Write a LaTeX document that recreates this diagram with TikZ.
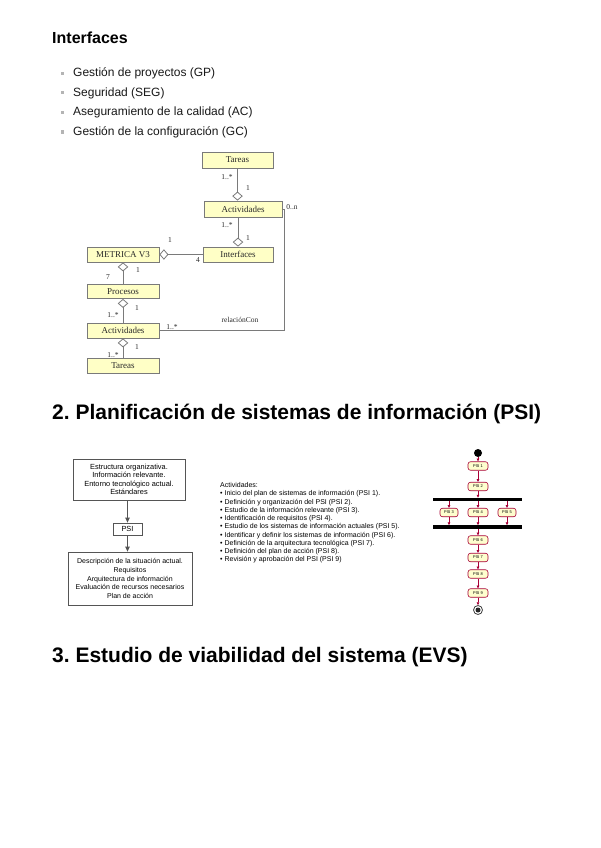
\documentclass[tikz,border=0pt]{standalone}
\usepackage{fontspec}
\setmainfont{Liberation Sans}
\newfontfamily\umlserif{Liberation Serif}
\usetikzlibrary{arrows.meta}
\frenchspacing
\definecolor{umlfill}{HTML}{FFFFC6}
\definecolor{umlline}{HTML}{7A7A7A}
\definecolor{umltext}{HTML}{2A2A2A}
\definecolor{pumlred}{HTML}{A80036}
\definecolor{pumlfill}{HTML}{FEFECE}
\definecolor{bulletgrey}{HTML}{B4B4B4}
\definecolor{boxline}{HTML}{555555}
\tikzset{
  heading/.style={anchor=base west, inner sep=0, font=\bfseries\fontsize{21}{24}\selectfont},
  subheading/.style={anchor=base west, inner sep=0, font=\bfseries\fontsize{16}{18}\selectfont},
  bulletmark/.style={fill=bulletgrey, minimum size=3, inner sep=0},
  bullettext/.style={anchor=base west, inner sep=0, font=\fontsize{12}{14}\selectfont, text=black!90},
  umlbox/.style={draw=umlline, fill=umlfill, line width=0.8, inner sep=0, text=umltext,
    font=\umlserif\fontsize{9}{10}\selectfont},
  umllabel/.style={inner sep=0, text=umltext, font=\umlserif\fontsize{7.5}{8}\selectfont},
  umlline/.style={draw=umlline, line width=0.8},
  agg/.style={umlline, {Diamond[open, length=9, width=10.5, fill=white]}-},
  plainbox/.style={draw=boxline, fill=white, line width=0.8, inner sep=0, align=center,
    font=\fontsize{7.4}{8.4}\selectfont},
  flowarrow/.style={draw=boxline, line width=0.8, -{Triangle[length=5, width=4.5]}},
  pbox/.style={draw=pumlred, fill=pumlfill, rounded corners=2.5, line width=0.6, inner sep=0,
    minimum width=20, minimum height=8.5, font=\fontsize{4}{4}\selectfont},
  parrow/.style={draw=pumlred, line width=0.6, -{Triangle[length=2.8, width=2.6]}},
  pbar/.style={fill=black, inner sep=0, minimum height=3.2, minimum width=89},
}
\begin{document}
\begin{tikzpicture}[x=1pt, y=-1pt]
\useasboundingbox (0,0) rectangle (600,848);
\fill[white] (0,0) rectangle (600,848);

% ---------- Interfaces heading and bullets ----------
\node[subheading] (hInt) at (52,44) {Interfaces};
\node[bulletmark] (m1) at (62,73.5) {};
\node[bullettext] (l1) at (73,77) {Gestión de proyectos (GP)};
\node[bulletmark] (m2) at (62,93) {};
\node[bullettext] (l2) at (73,96.5) {Seguridad (SEG)};
\node[bulletmark] (m3) at (62,112.5) {};
\node[bullettext] (l3) at (73,116) {Aseguramiento de la calidad (AC)};
\node[bulletmark] (m4) at (62,132) {};
\node[bullettext] (l4) at (73,135.5) {Gestión de la configuración (GC)};

% ---------- UML diagram ----------
\node[umlbox, minimum width=71, minimum height=16] (tar1) at (237.5,160) {Tareas};
\node[umlbox, minimum width=78, minimum height=16] (act1) at (243,209) {Actividades};
\node[umlbox, minimum width=70, minimum height=15] (int)  at (238,254.5) {Interfaces};
\node[umlbox, minimum width=72, minimum height=15] (met)  at (123,254.5) {METRICA V3};
\node[umlbox, minimum width=72, minimum height=14] (pro)  at (123,291.5) {Procesos};
\node[umlbox, minimum width=72, minimum height=15] (act2) at (123,330.5) {Actividades};
\node[umlbox, minimum width=72, minimum height=15] (tar2) at (123,365.5) {Tareas};

\draw[agg] (act1.north -| tar1.south) -- (tar1.south);
\draw[agg] (int.north) -- (int.north |- act1.south);
\draw[agg] (met.east) -- (int.west);
\draw[agg] (met.south) -- (pro.north);
\draw[agg] (pro.south) -- (act2.north);
\draw[agg] (act2.south) -- (tar2.north);
\coordinate (rc) at (284.5,0);
\draw[umlline] (act1.east) -- (act1.east -| rc) -- (act2.east -| rc) -- (act2.east);

\node[umllabel] (q1) at (227,177) {1..*};
\node[umllabel] (q2) at (248,188) {1};
\node[umllabel] (q3) at (292,207) {0..n};
\node[umllabel] (q4) at (227,225.5) {1..*};
\node[umllabel] (q5) at (248,238) {1};
\node[umllabel] (q6) at (170,240.5) {1};
\node[umllabel] (q7) at (198,260) {4};
\node[umllabel] (q8) at (138,270.5) {1};
\node[umllabel] (q9) at (108,277) {7};
\node[umllabel] (q10) at (137,308) {1};
\node[umllabel] (q11) at (113,315) {1..*};
\node[umllabel] (q12) at (240,319.5) {relaciónCon};
\node[umllabel] (q13) at (172,327) {1..*};
\node[umllabel] (q14) at (137,347) {1};
\node[umllabel] (q15) at (113,355) {1..*};

% ---------- Heading 2 ----------
\node[heading] (h2) at (52,419) {2. Planificación de sistemas de información (PSI)};

% ---------- PSI flow (left) ----------
\node[plainbox, minimum width=112, minimum height=41] (ptop) at (129,479.5)
  {Estructura organizativa.\\Información relevante.\\Entorno tecnológico actual.\\Estándares};
\node[plainbox, minimum width=29, minimum height=12] (psi) at (127.5,529) {PSI};
\node[plainbox, minimum width=124, minimum height=53, font=\fontsize{7}{8.9}\selectfont] (pbot) at (130,578.5)
  {Descripción de la situación actual.\\Requisitos\\Arquitectura de información\\Evaluación de recursos necesarios\\Plan de acción};
\draw[flowarrow] (ptop.south -| psi.north) -- (psi.north);
\draw[flowarrow] (psi.south) -- (pbot.north -| psi.south);

% ---------- Activities list ----------
\node[anchor=north west, inner sep=0, align=left, font=\fontsize{7}{8.25}\selectfont] (acts) at (220,482.3)
  {Actividades:\\
   • Inicio del plan de sistemas de información (PSI 1).\\
   • Definición y organización del PSI (PSI 2).\\
   • Estudio de la información relevante (PSI 3).\\
   • Identificación de requisitos (PSI 4).\\
   • Estudio de los sistemas de información actuales (PSI 5).\\
   • Identificar y definir los sistemas de información (PSI 6).\\
   • Definición de la arquitectura tecnológica (PSI 7).\\
   • Definición del plan de acción (PSI 8).\\
   • Revisión y aprobación del PSI (PSI 9)};

% ---------- Activity diagram (right) ----------
\node[circle, fill=black, minimum size=8, inner sep=0] (start) at (478,453) {};
\node[pbox] (p1) at (478,466) {PSI 1};
\node[pbox] (p2) at (478,486.5) {PSI 2};
\node[pbar] (bar1) at (477.5,499.5) {};
\node[pbox, minimum width=18] (p3) at (449,512.5) {PSI 3};
\node[pbox] (p4) at (478,512.5) {PSI 4};
\node[pbox, minimum width=18] (p5) at (507,512.5) {PSI 5};
\node[pbar] (bar2) at (477.5,527) {};
\node[pbox] (p6) at (478,540) {PSI 6};
\node[pbox] (p7) at (478,557.5) {PSI 7};
\node[pbox] (p8) at (478,574) {PSI 8};
\node[pbox] (p9) at (478,593) {PSI 9};
\node[circle, draw=black!75, line width=0.8, fill=white, minimum size=9, inner sep=0] (stop) at (478,610) {};
\node[circle, fill=black!85, minimum size=5, inner sep=0] (stopin) at (stop) {};

\draw[parrow] (start) -- (p1);
\draw[parrow] (p1) -- (p2);
\draw[parrow] (p2.south) -- (bar1.north -| p2.south);
\draw[parrow] (bar1.south -| p3.north) -- (p3.north);
\draw[parrow] (bar1.south -| p4.north) -- (p4.north);
\draw[parrow] (bar1.south -| p5.north) -- (p5.north);
\draw[parrow] (p3.south) -- (bar2.north -| p3.south);
\draw[parrow] (p4.south) -- (bar2.north -| p4.south);
\draw[parrow] (p5.south) -- (bar2.north -| p5.south);
\draw[parrow] (bar2.south -| p6.north) -- (p6.north);
\draw[parrow] (p6) -- (p7);
\draw[parrow] (p7) -- (p8);
\draw[parrow] (p8) -- (p9);
\draw[parrow] (p9) -- (stop);

% ---------- Heading 3 ----------
\node[heading] (h3) at (52,662) {3. Estudio de viabilidad del sistema (EVS)};
\end{tikzpicture}
\end{document}
